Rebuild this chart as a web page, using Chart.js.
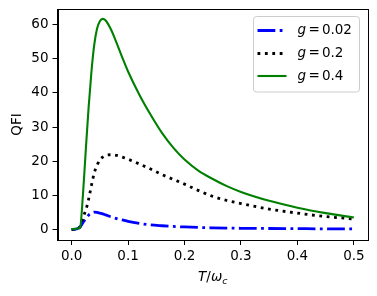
<!DOCTYPE html>
<html>
<head>
<meta charset="utf-8">
<script src="https://cdn.jsdelivr.net/npm/chart.js@4"></script>
<style>
  html, body { margin: 0; padding: 0; background: #ffffff; }
  #grafica { display: block; }
</style>
</head>
<body>
<canvas id="grafica" width="377" height="296"></canvas>
<script>
// valores
const tValues = [0, 0.005, 0.01, 0.015, 0.02, 0.025, 0.03, 0.035, 0.04, 0.045, 0.05, 0.055, 0.06, 0.07, 0.08, 0.09, 0.1, 0.12, 0.14, 0.16, 0.18, 0.2, 0.225, 0.25, 0.275, 0.3, 0.35, 0.4, 0.45, 0.5];
const qfiG002 = [0, 0.05, 0.2, 0.8, 2.0, 3.2, 4.2, 4.8, 5.1, 5.0, 4.8, 4.6, 4.3, 3.7, 3.2, 2.8, 2.4, 1.8, 1.35, 1.1, 0.9, 0.75, 0.6, 0.5, 0.42, 0.36, 0.3, 0.25, 0.2, 0.18];
const qfiG02 = [0, 0.05, 0.2, 0.8, 3.5, 5.6, 8.8, 12.8, 16.5, 18.8, 20.4, 21.2, 21.7, 21.9, 21.7, 21.2, 20.6, 19.2, 17.7, 16.1, 14.7, 13.3, 11.4, 9.7, 8.5, 7.6, 6.0, 4.8, 3.8, 3.1];
const qfiG04 = [0.1, 0.2, 0.3, 0.6, 10, 23, 35.5, 46, 54, 58.8, 61, 61.7, 61.3, 58.5, 54.5, 50.3, 46.3, 39.5, 33.6, 28.3, 24, 20.5, 17.2, 14.8, 12.7, 11, 8.4, 6.4, 4.8, 3.5];

const seriesLabels = ['0.02', '0.2', '0.4'];
const xTicks = [0, 0.1, 0.2, 0.3, 0.4, 0.5];
const yTicks = [0, 10, 20, 30, 40, 50, 60];

const fuente = 'DejaVu Sans';
const tamFuente = 13.5;

function puntos(serie) {
  return tValues.map((t, i) => ({ x: t, y: serie[i] }));
}

let estilos = [
  { color: '#0000ff', width: 2.8, dash: [17.8, 4.4, 2.8, 4.4] },
  { color: '#000000', width: 2.8, dash: [2.8, 4.6] },
  { color: '#008000', width: 2.1, dash: [] }
];
let series = [qfiG002, qfiG02, qfiG04];

/* marco, leyenda y titulos de ejes */
const extras = {
  id: 'extras',
  afterDraw(chart) {
    const ctx = chart.ctx;
    const area = chart.chartArea;

    // marco completo
    ctx.save();
    ctx.strokeStyle = '#000';
    ctx.lineWidth = 1;
    ctx.strokeRect(Math.round(area.left) + 0.5, Math.round(area.top) + 0.5,
      Math.round(area.right - area.left) - 1, Math.round(area.bottom - area.top));
    ctx.restore();

    // leyenda
    ctx.save();
    const lx = 253.5, ly = 16.5, lw = 106, lh = 75.5;
    ctx.beginPath();
    ctx.roundRect(lx, ly, lw, lh, 3);
    ctx.fillStyle = 'rgba(255,255,255,0.8)';
    ctx.fill();
    ctx.strokeStyle = '#cccccc';
    ctx.lineWidth = 1;
    ctx.stroke();

    const filas = [30.5, 53.5, 76];
    filas.forEach((fy, i) => {
      const e = estilos[i];
      ctx.beginPath();
      ctx.setLineDash(e.dash);
      ctx.lineCap = 'butt';
      ctx.strokeStyle = e.color;
      ctx.lineWidth = e.width;
      ctx.moveTo(257.5, fy);
      ctx.lineTo(286.5, fy);
      ctx.stroke();
      ctx.setLineDash([]);

      ctx.fillStyle = '#000';
      ctx.textBaseline = 'middle';
      ctx.textAlign = 'left';
      let x = 297.5;
      ctx.font = 'italic ' + tamFuente + 'px "' + fuente + '"';
      ctx.fillText('g', x, fy);
      x += ctx.measureText('g').width + 2.5;
      ctx.font = tamFuente + 'px "' + fuente + '"';
      ctx.fillText('=', x, fy);
      x += ctx.measureText('=').width + 2;
      ctx.fillText(seriesLabels[i], x, fy);
    });
    ctx.restore();

    // titulo eje y
    ctx.save();
    ctx.fillStyle = '#000';
    ctx.font = tamFuente + 'px "' + fuente + '"';
    ctx.textAlign = 'center';
    ctx.textBaseline = 'middle';
    ctx.translate(17.5, (area.top + area.bottom) / 2);
    ctx.rotate(-Math.PI / 2);
    ctx.fillText('QFI', 0, 0);
    ctx.restore();

    // titulo eje x: T/ωc
    ctx.save();
    ctx.fillStyle = '#000';
    ctx.textBaseline = 'alphabetic';
    ctx.textAlign = 'left';
    const fIt = 'italic ' + tamFuente + 'px "' + fuente + '"';
    const fNor = tamFuente + 'px "' + fuente + '"';
    const fSub = 'italic ' + (tamFuente * 0.7) + 'px "' + fuente + '"';
    const partes = [
      { t: 'T', f: fIt, dy: 0 },
      { t: '/', f: fNor, dy: 0 },
      { t: 'ω', f: fIt, dy: 0 },
      { t: 'c', f: fSub, dy: 2.5 }
    ];
    let total = 0;
    partes.forEach(p => { ctx.font = p.f; total += ctx.measureText(p.t).width; });
    let px = (area.left + area.right) / 2 - total / 2;
    const base = 281;
    partes.forEach(p => {
      ctx.font = p.f;
      ctx.fillText(p.t, px, base + p.dy);
      px += ctx.measureText(p.t).width;
    });
    ctx.restore();
  }
};

const grafica = document.getElementById('grafica').getContext('2d');

new Chart(grafica, {
  type: 'line',
  data: {
    datasets: series.map((s, i) => ({
      label: 'g = ' + seriesLabels[i],
      data: puntos(s),
      borderColor: estilos[i].color,
      borderWidth: estilos[i].width,
      borderDash: estilos[i].dash,
      borderCapStyle: 'butt',
      pointRadius: 0,
      fill: false,
      cubicInterpolationMode: 'monotone'
    })).reverse()
  },
  options: {
    responsive: false,
    animation: false,
    devicePixelRatio: 1,
    layout: { padding: { top: 9, right: 9, left: 0, bottom: 0 } },
    plugins: {
      legend: { display: false },
      tooltip: { enabled: false }
    },
    scales: {
      x: {
        type: 'linear',
        min: -0.025,
        max: 0.525,
        afterBuildTicks: s => { s.ticks = xTicks.map(v => ({ value: v })); },
        afterFit: s => { s.height = 56; s.paddingLeft = 0; s.paddingRight = 0; },
        ticks: {
          callback: v => v.toFixed(1),
          color: '#000',
          font: { family: fuente, size: tamFuente },
          padding: 3,
          maxRotation: 0,
          autoSkip: false
        },
        grid: { drawOnChartArea: false, drawTicks: true, tickLength: 5, color: '#000' },
        border: { display: true, color: '#000', width: 1 }
      },
      y: {
        min: -3.07,
        max: 64.6,
        afterBuildTicks: s => { s.ticks = yTicks.map(v => ({ value: v })); },
        afterFit: s => { s.width = 57.5; s.paddingTop = 0; s.paddingBottom = 0; },
        ticks: {
          color: '#000',
          font: { family: fuente, size: tamFuente },
          padding: 4,
          autoSkip: false
        },
        grid: { drawOnChartArea: false, drawTicks: true, tickLength: 5, color: '#000' },
        border: { display: true, color: '#000', width: 1 }
      }
    }
  },
  plugins: [extras]
});
</script>
</body>
</html>
